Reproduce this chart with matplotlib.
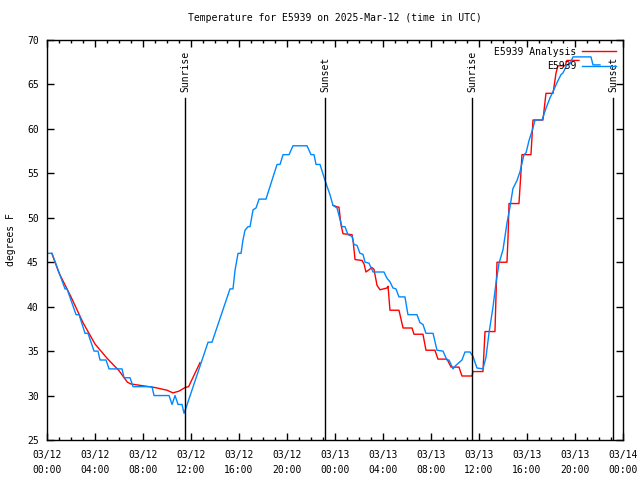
import matplotlib
matplotlib.use("Agg")
import matplotlib.pyplot as plt

# hours since 2025-03-12 00:00 UTC
obs_hours = [0, 0.42, 1.5, 1.67, 2.42, 2.67, 3.17, 3.42, 3.92, 4.25, 4.42, 4.92,
             5.17, 6.25, 6.42, 6.92, 7.17, 8.75, 8.92, 10.17, 10.42, 10.67, 10.92,
             11.25, 11.42, 11.58, 13.42, 13.75, 15.25, 15.5, 15.67, 15.92, 16.17,
             16.33, 16.5, 16.75, 16.92, 17.17, 17.42, 17.67, 18.25, 18.58, 19.17,
             19.42, 19.67, 20.17, 20.5, 21.67, 22.0, 22.25, 22.42, 22.75, 23.17,
             23.58, 23.83, 24.17, 24.42, 24.58, 24.83, 25.08, 25.42, 25.58, 25.83,
             26.08, 26.33, 26.5, 26.83, 27.17, 28.08, 28.33, 28.58, 28.83, 29.08,
             29.33, 29.83, 30.08, 30.83, 31.08, 31.33, 31.58, 32.17, 32.5, 33.0,
             33.33, 33.5, 33.83, 34.08, 34.58, 34.83, 35.25, 35.5, 35.83, 36.33,
             36.58, 36.83, 37.17, 37.42, 37.67, 38.0, 38.33, 38.58, 38.83, 39.17,
             39.42, 39.75, 39.92, 40.17, 40.5, 40.67, 41.25, 41.58, 41.92, 42.17,
             42.5, 42.83, 43.0, 43.33, 43.58, 43.83, 45.33, 45.5, 46.08]
obs_temp = [46.0, 46.0, 42.0, 42.0, 39.1, 39.1, 37.0, 37.0, 35.0, 35.0, 34.0, 34.0,
            33.0, 33.0, 32.0, 32.0, 31.0, 31.0, 30.0, 30.0, 29.0, 30.0, 29.0,
            29.0, 28.0, 28.6, 36.0, 36.0, 42.0, 42.0, 44.1, 46.0, 46.0,
            47.5, 48.6, 49.0, 49.0, 50.9, 51.1, 52.1, 52.1, 53.5, 56.0,
            56.0, 57.1, 57.1, 58.1, 58.1, 57.1, 57.1, 56.0, 56.0, 54.2,
            52.6, 51.4, 51.1, 49.8, 49.0, 49.0, 48.1, 47.9, 47.0, 46.9,
            46.0, 45.9, 45.0, 44.9, 43.9, 43.9, 43.2, 42.8, 42.1, 42.0,
            41.1, 41.1, 39.1, 39.1, 38.2, 38.0, 37.0, 37.0, 35.1, 35.0,
            34.0, 34.0, 33.0, 33.4, 34.0, 34.9, 34.9, 34.4, 33.1, 33.0,
            34.3, 37.0, 40.0, 42.7, 44.9, 46.4, 49.4, 51.2, 53.3, 54.2,
            55.2, 57.1, 57.3, 58.7, 60.1, 61.0, 61.0, 62.3, 63.5, 64.2,
            65.2, 66.1, 66.3, 67.2, 67.3, 68.1, 68.1, 67.2, 67.2]

# analysis, first night
ana1_hours = [0.4, 1, 2, 3, 4, 5, 6, 6.7, 7, 8, 9, 10, 10.5, 11, 11.5, 11.8, 12.75]
ana1_temp = [46.0, 43.8, 41.1, 38.2, 35.8, 34.2, 32.8, 31.5, 31.3, 31.1, 30.9,
             30.6, 30.3, 30.5, 30.9, 31.0, 33.7]

# analysis, from sunset on
ana2_hours = [23.83, 24.25, 24.33, 24.5, 24.67, 25.42, 25.5, 25.67, 26.25, 26.42,
              26.58, 27.08, 27.25, 27.5, 27.75, 28.33, 28.42, 28.58, 29.33, 29.67,
              30.42, 30.58, 31.33, 31.58, 32.33, 32.58, 33.33, 33.67, 34.33, 34.58,
              35.42, 35.5, 36.33, 36.5, 37.33, 37.5, 38.33, 38.42, 38.5, 39.33,
              39.5, 39.58, 40.33, 40.5, 41.33, 41.58, 42.17, 42.42, 42.58, 43.17,
              43.33, 44.33]
ana2_temp = [51.4, 51.2, 51.2, 49.2, 48.2, 48.1, 47.5, 45.3, 45.2, 44.8,
             43.9, 44.4, 44.2, 42.4, 41.9, 42.1, 42.3, 39.6, 39.6, 37.6,
             37.6, 36.9, 36.9, 35.1, 35.1, 34.1, 34.1, 33.2, 33.2, 32.2,
             32.2, 32.7, 32.7, 37.2, 37.2, 45.0, 45.0, 47.8, 51.6, 51.6,
             55.2, 57.1, 57.1, 61.0, 61.0, 64.0, 64.0, 66.3, 67.1, 67.1,
             67.7, 67.7]

sun_hours = [11.5, 23.17, 35.42, 47.17]
sun_names = ["Sunrise", "Sunset", "Sunrise", "Sunset"]

tick_hours = list(range(0, 49, 4))
tick_labels = ["03/12\n00:00", "03/12\n04:00", "03/12\n08:00", "03/12\n12:00",
               "03/12\n16:00", "03/12\n20:00", "03/13\n00:00", "03/13\n04:00",
               "03/13\n08:00", "03/13\n12:00", "03/13\n16:00", "03/13\n20:00",
               "03/14\n00:00"]

plt.rcParams['font.family'] = ['DejaVu Sans Mono']
plt.rcParams['font.size'] = 7

fig = plt.figure(figsize=(6.4, 4.8), dpi=100)
ax = fig.add_axes([47 / 640, 40 / 480, 576 / 640, 400 / 480])

ax.plot(ana1_hours, ana1_temp, color='#ff0000', lw=1, label='E5939 Analysis')
ax.plot(ana2_hours, ana2_temp, color='#ff0000', lw=1)
ax.plot(obs_hours, obs_temp, color='#0088ff', lw=1, label='E5939')

# sunrise / sunset markers
for h, name in zip(sun_hours, sun_names):
    ax.plot([h, h], [25, 63.5], color='black', lw=1)
    ax.text(h, 64.1, name, rotation=90, ha='center', va='bottom', fontsize=7)

ax.set_xlim(0, 48)
ax.set_ylim(25, 70)
ax.set_xticks(tick_hours)
ax.set_xticklabels(tick_labels, linespacing=1.6)
ax.set_xticks(range(0, 49), minor=True)
ax.set_yticks(range(25, 71, 5))
ax.tick_params(direction='in', top=True, right=True, length=5, width=1, pad=6)
ax.tick_params(axis='x', pad=7)
ax.tick_params(which='minor', direction='in', top=True, length=2.5, width=1)
ax.set_ylabel('degrees F', labelpad=8, fontsize=7)
ax.set_title('Temperature for E5939 on 2025-Mar-12 (time in UTC)', pad=14,
             fontsize=7)
for s in ax.spines.values():
    s.set_linewidth(1)

ax.legend(loc='upper right', frameon=False, markerfirst=False, handlelength=3.5,
          borderaxespad=0.3, labelspacing=0.45, handletextpad=0.6, fontsize=7)

fig.savefig('out.png', dpi=100)
